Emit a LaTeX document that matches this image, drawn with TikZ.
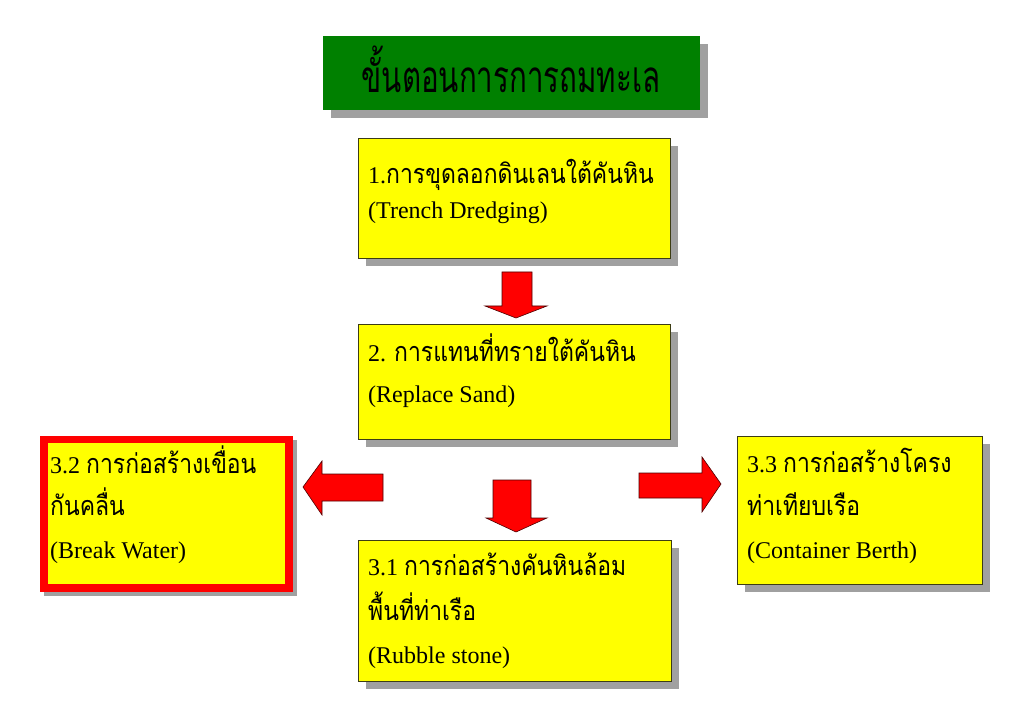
\documentclass[tikz,border=0pt]{standalone}
\usepackage{fontspec}
\setmainfont{Liberation Serif}
\newfontfamily\thaibox[Script=Thai,FakeStretch=0.85]{Loma}
\newfontfamily\thaititle[Script=Thai,FakeStretch=0.67]{Loma}
\newcommand{\thx}[1]{{\thaibox\fontsize{27}{30}\selectfont #1}}
\definecolor{boxyellow}{RGB}{255,255,0}
\definecolor{titlegreen}{RGB}{0,128,0}
\definecolor{shadowgray}{RGB}{160,160,160}
\definecolor{arrowred}{RGB}{255,0,0}
\definecolor{edgedark}{RGB}{60,60,20}
\tikzset{
  panel/.style={draw=edgedark, line width=0.8pt, fill=boxyellow},
  shade/.style={fill=shadowgray, draw=none},
  txt/.style={inner sep=0pt, anchor=base west, font=\fontsize{24}{28}\selectfont},
  blockarrow/.style={fill=arrowred, draw=black!70!red, line width=0.6pt},
}
\begin{document}
\begin{tikzpicture}[x=1pt,y=-1pt]
\useasboundingbox (0,0) rectangle (1023,708);
\fill[white] (0,0) rectangle (1023,708);
% title
\fill[shade] (331,44) rectangle (708,118);
\node[fill=titlegreen, draw=none, minimum width=377pt, minimum height=74pt, anchor=north west, inner sep=0pt] (title) at (323,36) {};
\node[inner sep=0pt, anchor=base] (titletext) at (511,93) {\fontsize{44}{48}\selectfont\thaititle ขั้นตอนการการถมทะเล};
% box 1
\fill[shade] (366,146) rectangle (678,266);
\node[panel, minimum width=312pt, minimum height=120pt, anchor=north west, inner sep=0pt] (b1) at (358,138) {};
\node[txt] (b1a) at (368,184) {1.\thx{การขุดลอกดินเลนใต้คันหิน}};
\node[txt] (b1b) at (368,219) {(Trench Dredging)};
% box 2
\fill[shade] (366,332) rectangle (678,447);
\node[panel, minimum width=312pt, minimum height=115pt, anchor=north west, inner sep=0pt] (b2) at (358,324) {};
\node[txt] (b2a) at (368,362) {2. \thx{การแทนที่ทรายใต้คันหิน}};
\node[txt] (b2b) at (368,403) {(Replace Sand)};
% box 3.2
\fill[shade] (44,440) rectangle (297,596);
\node[panel, draw=arrowred, line width=7.5pt, minimum width=245pt, minimum height=148pt, anchor=north west, inner sep=0pt] (b32) at (40,436) {};
\node[txt] (b32a) at (50,473) {3.2 \thx{การก่อสร้างเขื่อน}};
\node[txt] (b32b) at (50,515) {\thx{กันคลื่น}};
\node[txt] (b32c) at (50,558) {(Break Water)};
% box 3.1
\fill[shade] (366,548) rectangle (679,689);
\node[panel, minimum width=313pt, minimum height=141pt, anchor=north west, inner sep=0pt] (b31) at (358,540) {};
\node[txt] (b31a) at (368,575) {3.1 \thx{การก่อสร้างคันหินล้อม}};
\node[txt] (b31b) at (368,620) {\thx{พื้นที่ท่าเรือ}};
\node[txt] (b31c) at (368,663) {(Rubble stone)};
% box 3.3
\fill[shade] (745,444) rectangle (990,592);
\node[panel, minimum width=245pt, minimum height=148pt, anchor=north west, inner sep=0pt] (b33) at (737,436) {};
\node[txt] (b33a) at (747,472) {3.3 \thx{การก่อสร้างโครง}};
\node[txt] (b33b) at (747,515) {\thx{ท่าเทียบเรือ}};
\node[txt] (b33c) at (747,558) {(Container Berth)};
% arrows
\draw[blockarrow] (502,272) -- (532,272) -- (532,306) -- (547,306) -- (516,318) -- (485,306) -- (502,306) -- cycle;
\draw[blockarrow] (493,480) -- (531,480) -- (531,518) -- (547,518) -- (516,532) -- (486,518) -- (493,518) -- cycle;
\draw[blockarrow] (383,474) -- (322,474) -- (322,461) -- (303,487) -- (322,515) -- (322,501) -- (383,501) -- cycle;
\draw[blockarrow] (639,473) -- (702,473) -- (702,457) -- (721,484) -- (702,512) -- (702,498) -- (639,498) -- cycle;
\end{tikzpicture}
\end{document}
